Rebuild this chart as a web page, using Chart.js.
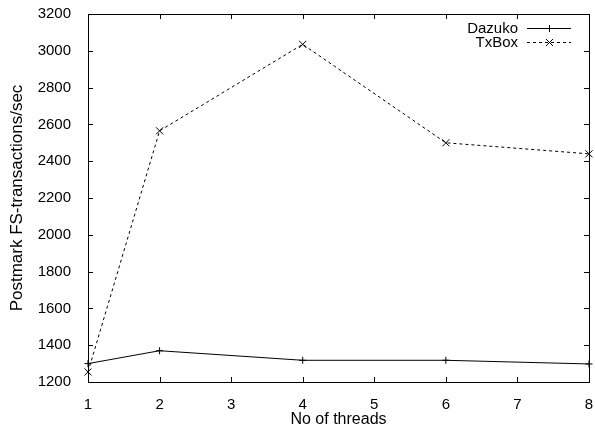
<!DOCTYPE html>
<html>
<head>
<meta charset="utf-8">
<script src="https://cdn.jsdelivr.net/npm/chart.js@4"></script>
<style>
  html, body { margin: 0; padding: 0; background: #fff; }
  #wrap { width: 595px; height: 430px; }
</style>
</head>
<body>
<div id="wrap"><canvas id="grafico"></canvas></div>
<script>
const threads = [1, 2, 4, 6, 8];
const dazuko = [1300, 1370, 1318, 1318, 1298];
const txbox = [1255, 2565, 3035, 2500, 2440];
const xTicks = [1, 2, 3, 4, 5, 6, 7, 8];
const yTicks = [1200, 1400, 1600, 1800, 2000, 2200, 2400, 2600, 2800, 3000, 3200];

const FAMILY = "'Liberation Sans', Arial, sans-serif";
const TICK_FONT = { family: FAMILY, size: 15 };

// frame, inward ticks on all four sides, and the gnuplot-style key
const gnuFrame = {
    id: "gnuFrame",
    afterDatasetsDraw(chart) {
        const { ctx, chartArea: a, scales } = chart;
        const tl = 5;
        ctx.save();
        ctx.strokeStyle = "#000";
        ctx.lineWidth = 1;
        ctx.setLineDash([]);
        ctx.beginPath();
        xTicks.forEach(v => {
            const px = Math.round(scales.x.getPixelForValue(v)) + 0.5;
            ctx.moveTo(px, a.bottom); ctx.lineTo(px, a.bottom - tl);
            ctx.moveTo(px, a.top); ctx.lineTo(px, a.top + tl);
        });
        yTicks.forEach(v => {
            const py = Math.round(scales.y.getPixelForValue(v)) + 0.5;
            ctx.moveTo(a.left, py); ctx.lineTo(a.left + tl, py);
            ctx.moveTo(a.right, py); ctx.lineTo(a.right - tl, py);
        });
        ctx.stroke();
        ctx.strokeRect(Math.round(a.left) + 0.5, Math.round(a.top) + 0.5,
            Math.round(a.right - a.left), Math.round(a.bottom - a.top));

        // key
        ctx.font = "15px " + FAMILY;
        ctx.fillStyle = "#000";
        ctx.textAlign = "right";
        ctx.textBaseline = "middle";
        chart.data.datasets.forEach((ds, i) => {
            const y = Math.round(a.top + 14 + i * 14) + 0.5;
            ctx.fillText(ds.label, a.right - 71, y);
            ctx.setLineDash(ds.borderDash || []);
            ctx.beginPath();
            ctx.moveTo(a.right - 62, y); ctx.lineTo(a.right - 18, y);
            ctx.stroke();
            ctx.setLineDash([]);
            const cx = Math.round(a.right - 40) + 0.5, r = 3.5;
            ctx.beginPath();
            if (ds.pointStyle === "cross") {
                ctx.moveTo(cx - r, y); ctx.lineTo(cx + r, y);
                ctx.moveTo(cx, y - r); ctx.lineTo(cx, y + r);
            } else {
                ctx.moveTo(cx - r, y - r); ctx.lineTo(cx + r, y + r);
                ctx.moveTo(cx - r, y + r); ctx.lineTo(cx + r, y - r);
            }
            ctx.stroke();
        });
        ctx.restore();
    }
};

new Chart(document.getElementById("grafico"), {
    type: "line",
    data: {
        datasets: [{
            label: "Dazuko",
            data: threads.map((t, i) => ({ x: t, y: dazuko[i] })),
            borderColor: "#000",
            borderWidth: 1,
            pointStyle: "cross",
            pointRadius: 3.5,
            pointBorderColor: "#000",
            pointBorderWidth: 1,
            tension: 0,
            clip: false
        }, {
            label: "TxBox",
            data: threads.map((t, i) => ({ x: t, y: txbox[i] })),
            borderColor: "#000",
            borderWidth: 1,
            borderDash: [3, 3],
            pointStyle: "crossRot",
            pointRadius: 5,
            pointBorderColor: "#000",
            pointBorderWidth: 1,
            tension: 0,
            clip: false
        }]
    },
    options: {
        responsive: true,
        maintainAspectRatio: false,
        animation: false,
        layout: { padding: { top: 14, right: 4, left: 0, bottom: 0 } },
        plugins: {
            legend: { display: false },
            tooltip: { enabled: false }
        },
        scales: {
            x: {
                type: "linear",
                min: 1,
                max: 8,
                afterFit: s => { s.height = 48; s.paddingLeft = 0; s.paddingRight = 0; },
                afterBuildTicks: s => { s.ticks = xTicks.map(v => ({ value: v })); },
                grid: { display: false },
                border: { display: false },
                ticks: { color: "#000", font: TICK_FONT, padding: 6, maxRotation: 0, callback: v => String(v) },
                title: { display: true, text: "No of threads", color: "#000", font: { family: FAMILY, size: 16 }, padding: { top: 0, bottom: 1 } }
            },
            y: {
                min: 1200,
                max: 3200,
                afterFit: s => { s.width = 88; s.paddingTop = 0; s.paddingBottom = 0; },
                afterBuildTicks: s => { s.ticks = yTicks.map(v => ({ value: v })); },
                grid: { display: false },
                border: { display: false },
                ticks: { color: "#000", font: TICK_FONT, padding: 9, callback: v => String(v) },
                title: { display: true, text: "Postmark FS-transactions/sec", color: "#000", font: { family: FAMILY, size: 17 }, padding: { top: 7, bottom: 0 } }
            }
        }
    },
    plugins: [gnuFrame]
});
</script>
</body>
</html>
